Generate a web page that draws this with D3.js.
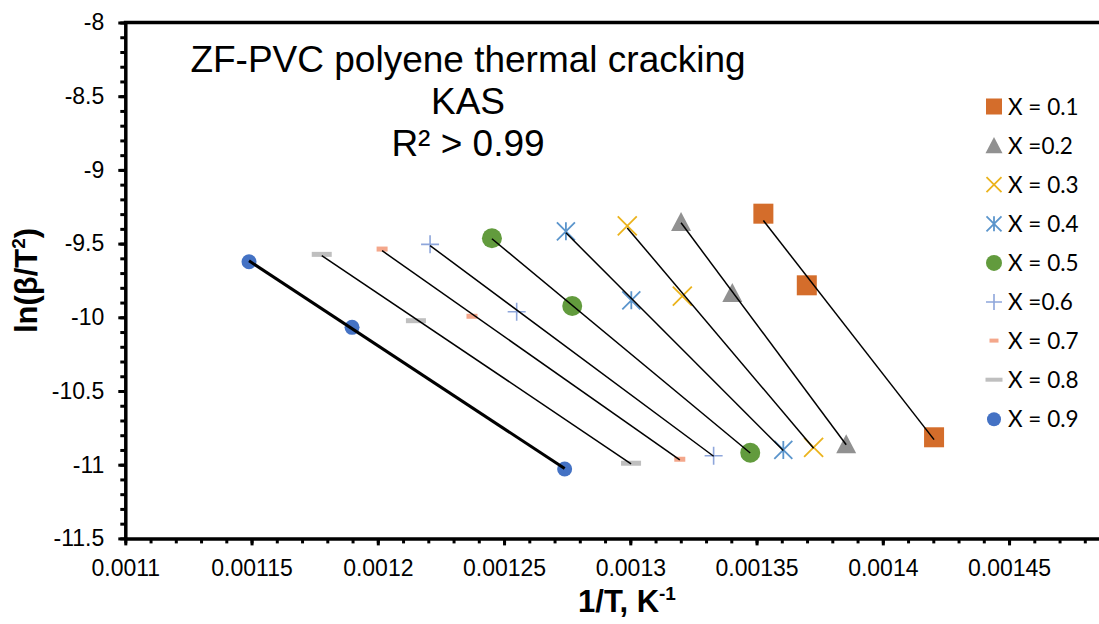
<!DOCTYPE html>
<html><head><meta charset="utf-8">
<script src="https://cdn.jsdelivr.net/npm/d3@7"></script>
<style>body{margin:0;background:#fff;} svg{display:block;}</style>
</head><body>
<svg id="chart" width="1099" height="624"></svg>
<script>
// ---- data ----
const seriesLabels = ["X = 0.1", "X =0.2", "X = 0.3", "X = 0.4", "X = 0.5", "X =0.6", "X = 0.7", "X = 0.8", "X = 0.9"];
const invT_01 = [0.0013527, 0.0013699, 0.0014203];
const lnBT2_01 = [-9.297, -9.783, -10.814];
const invT_02 = [0.0013201, 0.0013404, 0.0013855];
const lnBT2_02 = [-9.353, -9.835, -10.862];
const invT_03 = [0.0012988, 0.0013206, 0.0013726];
const lnBT2_03 = [-9.379, -9.856, -10.882];
const invT_04 = [0.0012745, 0.0013004, 0.0013606];
const lnBT2_04 = [-9.417, -9.885, -10.900];
const invT_05 = [0.0012452, 0.0012770, 0.0013475];
const lnBT2_05 = [-9.464, -9.923, -10.919];
const invT_06 = [0.0012207, 0.0012550, 0.0013330];
const lnBT2_06 = [-9.505, -9.962, -10.939];
const invT_07 = [0.0012017, 0.0012373, 0.0013196];
const lnBT2_07 = [-9.537, -9.993, -10.963];
const invT_08 = [0.0011778, 0.0012151, 0.0013003];
const lnBT2_08 = [-9.573, -10.023, -10.990];
const invT_09 = [0.0011490, 0.0011898, 0.0012740];
const lnBT2_09 = [-9.623, -10.068, -11.029];

const xTickValues = [0.0011, 0.00115, 0.0012, 0.00125, 0.0013, 0.00135, 0.0014, 0.00145];
const xTickLabels = ["0.0011", "0.00115", "0.0012", "0.00125", "0.0013", "0.00135", "0.0014", "0.00145"];
const yTickValues = [-11.5, -11, -10.5, -10, -9.5, -9, -8.5, -8];
const yTickLabels = ["-11.5", "-11", "-10.5", "-10", "-9.5", "-9", "-8.5", "-8"];
const titleLines = ["ZF-PVC polyene thermal cracking", "KAS", "R² > 0.99"];

// ---- styles ----
const markerStyles = [
  {type: "square", color: "#D46D2B", size: 20, lsize: 16},
  {type: "triangle", color: "#919191", size: 20, lsize: 17},
  {type: "x", color: "#EBB31C", size: 19, lsize: 15},
  {type: "asterisk", color: "#5B95CC", size: 18, lsize: 15},
  {type: "circle", color: "#629B3D", size: 20, lsize: 16},
  {type: "plus", color: "#8EA6DB", size: 18, lsize: 16},
  {type: "dash", color: "#F4A78B", size: 11, h: 5, lsize: 9},
  {type: "dash", color: "#BFBFBF", size: 20, h: 5, lsize: 17},
  {type: "circle", color: "#4472C4", size: 15, lsize: 14}
];
const xsList = [invT_01, invT_02, invT_03, invT_04, invT_05, invT_06, invT_07, invT_08, invT_09];
const ysList = [lnBT2_01, lnBT2_02, lnBT2_03, lnBT2_04, lnBT2_05, lnBT2_06, lnBT2_07, lnBT2_08, lnBT2_09];
const series = seriesLabels.map((label, i) => ({
  label, style: markerStyles[i],
  points: xsList[i].map((x, j) => ({x, y: ysList[i][j]})),
  lineWidth: i === 8 ? 3 : 1.5
}));

const svg = d3.select("#chart");
const FONT = "'Liberation Sans', Arial, sans-serif";
const LFONT = "Lato, 'Open Sans', sans-serif";

const x = d3.scaleLinear().domain([0.0011, 0.0015]).range([125.3, 1135.3]);
const y = d3.scaleLinear().domain([-11.5, -8]).range([538.4, 22.5]);

// minor ticks
const xMinor = d3.range(0, 41).map(i => 0.0011 + i * 0.00001);
const yMinor = d3.range(0, 36).map(i => -11.5 + i * 0.1);

svg.append("g").attr("transform", `translate(0,${y(-11.5)})`)
  .call(d3.axisBottom(x).tickValues(xMinor).tickSize(5).tickFormat(""))
  .call(g => g.select(".domain").remove())
  .call(g => g.selectAll("line").attr("stroke", "#000").attr("stroke-width", 3));
svg.append("g").attr("transform", `translate(${x(0.0011)},0)`)
  .call(d3.axisLeft(y).tickValues(yMinor).tickSize(5).tickFormat(""))
  .call(g => g.select(".domain").remove())
  .call(g => g.selectAll("line").attr("stroke", "#000").attr("stroke-width", 3));

// major axes
const xAxis = svg.append("g").attr("transform", `translate(0,${y(-11.5)})`)
  .call(d3.axisBottom(x).tickValues(xTickValues).tickSize(7).tickSizeOuter(0).tickPadding(14)
    .tickFormat((d, i) => xTickLabels[i]));
xAxis.select(".domain").attr("stroke", "#000").attr("stroke-width", 3.5);
xAxis.selectAll("line").attr("stroke", "#000").attr("stroke-width", 3);
xAxis.selectAll("text").attr("font-family", FONT).attr("font-size", 23).attr("fill", "#000");

const yAxis = svg.append("g").attr("transform", `translate(${x(0.0011)},0)`)
  .call(d3.axisLeft(y).tickValues(yTickValues).tickSize(7).tickSizeOuter(0).tickPadding(14)
    .tickFormat((d, i) => yTickLabels[i]));
yAxis.select(".domain").attr("stroke", "#000").attr("stroke-width", 3.5);
yAxis.selectAll("line").attr("stroke", "#000").attr("stroke-width", 3);
yAxis.selectAll("text").attr("font-family", FONT).attr("font-size", 23).attr("fill", "#000");

// top border
svg.append("line").attr("x1", x(0.0011) - 1.5).attr("x2", x(0.0015)).attr("y1", y(-8)).attr("y2", y(-8))
  .attr("stroke", "#000").attr("stroke-width", 3.5);

// marker drawing
function drawMarker(g, st, cx, cy, s, legend) {
  const h = s / 2;
  switch (st.type) {
    case "square":
      g.append("rect").attr("x", cx - h).attr("y", cy - h).attr("width", s).attr("height", s).attr("fill", st.color);
      break;
    case "triangle":
      g.append("path").attr("d", `M${cx},${cy - h}L${cx + h},${cy + h * 0.9}L${cx - h},${cy + h * 0.9}Z`).attr("fill", st.color);
      break;
    case "circle":
      g.append("circle").attr("cx", cx).attr("cy", cy).attr("r", h).attr("fill", st.color);
      break;
    case "x":
      g.append("path").attr("d", `M${cx - h},${cy - h}L${cx + h},${cy + h}M${cx + h},${cy - h}L${cx - h},${cy + h}`)
        .attr("stroke", st.color).attr("stroke-width", 1.8).attr("fill", "none");
      break;
    case "asterisk":
      g.append("path").attr("d", `M${cx - h},${cy - h}L${cx + h},${cy + h}M${cx + h},${cy - h}L${cx - h},${cy + h}M${cx},${cy - h}L${cx},${cy + h}`)
        .attr("stroke", st.color).attr("stroke-width", 1.8).attr("fill", "none");
      break;
    case "plus":
      g.append("path").attr("d", `M${cx - h},${cy}L${cx + h},${cy}M${cx},${cy - h}L${cx},${cy + h}`)
        .attr("stroke", st.color).attr("stroke-width", 1.6).attr("fill", "none");
      break;
    case "dash":
      g.append("rect").attr("x", cx - h).attr("y", cy - (st.h / 2)).attr("width", s).attr("height", legend ? 4 : st.h).attr("fill", st.color);
      break;
  }
}

// markers
const markG = svg.append("g");
series.forEach(s => {
  s.points.forEach(p => drawMarker(markG, s.style, x(p.x), y(p.y), s.style.size, false));
});

// trendlines (least squares), drawn above markers
const lineG = svg.append("g");
series.forEach(s => {
  const mx = d3.mean(s.points, p => p.x), my = d3.mean(s.points, p => p.y);
  const sxy = d3.sum(s.points, p => (p.x - mx) * (p.y - my));
  const sxx = d3.sum(s.points, p => (p.x - mx) ** 2);
  const b = sxy / sxx, a = my - b * mx;
  const [x0, x1] = d3.extent(s.points, p => p.x);
  lineG.append("line")
    .attr("x1", x(x0)).attr("y1", y(a + b * x0))
    .attr("x2", x(x1)).attr("y2", y(a + b * x1))
    .attr("stroke", "#000").attr("stroke-width", s.lineWidth);
});

// legend
const legG = svg.append("g");
series.forEach((s, i) => {
  const cy = 106.5 + i * 39.1;
  drawMarker(legG, s.style, 994, cy, s.style.lsize, true);
  legG.append("text").attr("x", 1008).attr("y", cy).attr("dy", "0.36em")
    .attr("font-family", LFONT).attr("font-size", 22.5).attr("fill", "#000").text(s.label);
});

// title
svg.append("g").selectAll("text").data(titleLines).join("text")
  .attr("x", 468).attr("y", (d, i) => 72 + i * 42)
  .attr("text-anchor", "middle").attr("font-family", FONT).attr("font-size", 37).attr("fill", "#000")
  .text(d => d);

// axis titles
const xt = svg.append("text").attr("x", 627).attr("y", 612).attr("text-anchor", "middle")
  .attr("font-family", FONT).attr("font-size", 31).attr("font-weight", "bold").attr("fill", "#000");
xt.append("tspan").text("1/T, K");
xt.append("tspan").attr("font-size", 19).attr("dy", -12).text("-1");

const yt = svg.append("text").attr("transform", `translate(37,${(y(-8) + y(-11.5)) / 2}) rotate(-90)`)
  .attr("text-anchor", "middle").attr("font-family", FONT).attr("font-size", 31).attr("font-weight", "bold").attr("fill", "#000");
yt.append("tspan").text("ln(β/T");
yt.append("tspan").attr("font-size", 19).attr("dy", -12).text("2");
yt.append("tspan").attr("dy", 12).text(")");
</script>
</body></html>
